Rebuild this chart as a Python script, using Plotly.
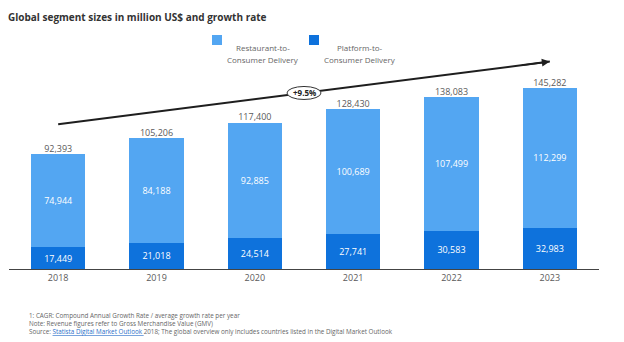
import plotly.graph_objects as go

# Segment sizes in million US$
years = ["2018", "2019", "2020", "2021", "2022", "2023"]
platform_to_consumer = [17449, 21018, 24514, 27741, 30583, 32983]
restaurant_to_consumer = [74944, 84188, 92885, 100689, 107499, 112299]
totals = [92393, 105206, 117400, 128430, 138083, 145282]
cagr_label = "+9.5%"

LIGHT = "#53a6f2"
DARK = "#0e72dc"
FONT = "Open Sans"

W, H = 624, 342
M_L, M_R, M_T, M_B = 9, 25, 57, 73
Y_MAX = 170000

# growth arrow endpoints (data coordinates)
arrow_start = (0, 116000)
arrow_end = (5, 166300)


def px_x(px):
    return (px - M_L) / (W - M_L - M_R)


def px_y(py):
    return (H - M_B - py) / (H - M_T - M_B)


xs = list(range(len(years)))

fig = go.Figure()
fig.add_trace(go.Bar(
    x=xs, y=platform_to_consumer, marker=dict(color=DARK, line=dict(width=0)),
    text=[f"{v:,}" for v in platform_to_consumer], textposition="inside",
    insidetextanchor="middle", textangle=0,
    textfont=dict(color="white", size=9, family=FONT),
    name="Platform-to-Consumer Delivery", hoverinfo="skip",
))
fig.add_trace(go.Bar(
    x=xs, y=restaurant_to_consumer, marker=dict(color=LIGHT, line=dict(width=0)),
    text=[f"{v:,}" for v in restaurant_to_consumer], textposition="inside",
    insidetextanchor="middle", textangle=0,
    textfont=dict(color="white", size=9, family=FONT),
    name="Restaurant-to-Consumer Delivery", hoverinfo="skip",
))
fig.add_trace(go.Scatter(
    x=xs, y=totals, mode="text", text=[f"{v:,}" for v in totals],
    textposition="top center", textfont=dict(color="#5a5a5a", size=9, family=FONT),
    hoverinfo="skip", cliponaxis=False,
))

shapes = []
annotations = []

# growth line with oval label
shapes.append(dict(type="line", xref="x", yref="y",
                   x0=arrow_start[0], y0=arrow_start[1], x1=arrow_end[0], y1=arrow_end[1],
                   line=dict(color="#1e1e1e", width=2)))
mid_x = (arrow_start[0] + arrow_end[0]) / 2
mid_y = (arrow_start[1] + arrow_end[1]) / 2
shapes.append(dict(type="circle", xref="x", yref="y", xsizemode="pixel", ysizemode="pixel",
                   xanchor=mid_x, yanchor=mid_y, x0=-17, x1=17, y0=-6.5, y1=6.5,
                   line=dict(color="#333333", width=1), fillcolor="white"))
annotations.append(dict(x=mid_x, y=mid_y, xref="x", yref="y", text="<b>" + cagr_label + "</b>",
                        showarrow=False, font=dict(size=8, color="#222222", family=FONT)))
slope = (arrow_end[1] - arrow_start[1]) / (arrow_end[0] - arrow_start[0])
annotations.append(dict(x=arrow_end[0], y=arrow_end[1], xref="x", yref="y",
                        ax=arrow_end[0] - 0.3, ay=arrow_end[1] - 0.3 * slope,
                        axref="x", ayref="y", text="", showarrow=True,
                        arrowhead=2, arrowsize=1, arrowwidth=1.6, arrowcolor="#1e1e1e",
                        standoff=0))

# legend
legend_items = [(LIGHT, "Restaurant-to-", 212, 263), (DARK, "Platform-to-", 309, 360)]
for color, first, sq_x, txt_x in legend_items:
    shapes.append(dict(type="rect", xref="paper", yref="paper",
                       x0=px_x(sq_x), x1=px_x(sq_x + 10), y0=px_y(45), y1=px_y(35),
                       fillcolor=color, line=dict(width=0)))
    annotations.append(dict(x=px_x(txt_x), y=px_y(40), xref="paper", yref="paper",
                            text=first, showarrow=False,
                            font=dict(size=8, color="#666666", family=FONT)))
    annotations.append(dict(x=px_x(txt_x), y=px_y(51.5), xref="paper", yref="paper",
                            text="Consumer Delivery", showarrow=False,
                            font=dict(size=8, color="#666666", family=FONT)))

# footnotes
notes = [
    "1: CAGR: Compound Annual Growth Rate / average growth rate per year",
    "Note: Revenue figures refer to Gross Merchandise Value (GMV)",
    "Source: <span style='color:#2a6fc9;text-decoration:underline'>Statista Digital Market Outlook </span>"
    "2018; The global overview only includes countries listed in the Digital Market Outlook",
]
for i, line in enumerate(notes):
    annotations.append(dict(x=px_x(27), y=px_y(315 + 8 * i), xref="paper", yref="paper",
                            text=line, showarrow=False, xanchor="left", yanchor="middle",
                            font=dict(size=6.3, color="#666666", family=FONT)))

fig.update_layout(
    width=W, height=H,
    margin=dict(l=M_L, r=M_R, t=M_T, b=M_B),
    paper_bgcolor="white", plot_bgcolor="white",
    barmode="stack", bargap=0.45, showlegend=False,
    title=dict(text="<b>Global segment sizes in million US$ and growth rate</b>",
               x=8 / W, xanchor="left", xref="container",
               y=1 - 17 / H, yanchor="middle", yref="container",
               font=dict(size=10, color="#333333", family=FONT)),
    xaxis=dict(range=[-0.5, 5.5], tickvals=xs, ticktext=years, showgrid=False,
               zeroline=False, showline=True, linecolor="#444444", linewidth=1,
               ticks="", tickfont=dict(size=9, color="#5a5a5a", family=FONT)),
    yaxis=dict(range=[0, Y_MAX], visible=False, showgrid=False, zeroline=False),
    shapes=shapes, annotations=annotations,
    uniformtext=dict(mode="show", minsize=9),
)

fig.write_html("out.html")
